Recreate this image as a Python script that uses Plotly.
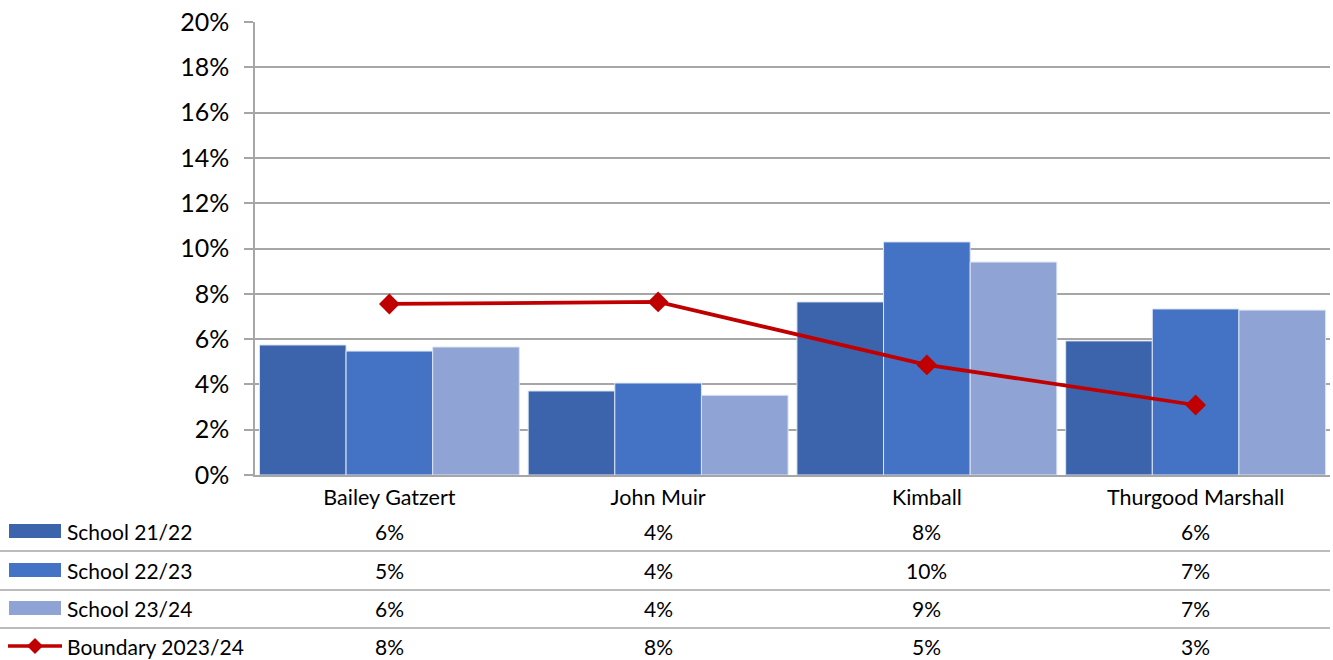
import plotly.graph_objects as go

categories = ["Bailey Gatzert", "John Muir", "Kimball", "Thurgood Marshall"]
school_2122 = [5.74, 3.71, 7.64, 5.92]
school_2223 = [5.47, 4.06, 10.29, 7.33]
school_2324 = [5.65, 3.52, 9.40, 7.28]
boundary_2324 = [7.55, 7.64, 4.86, 3.09]
series_names = ["School 21/22", "School 22/23", "School 23/24", "Boundary 2023/24"]
y_ticks = [0, 2, 4, 6, 8, 10, 12, 14, 16, 18, 20]

W, H = 1333, 660
FONT = "Lato, 'Open Sans', sans-serif"
colors = ["#3C64AC", "#4472C4", "#8FA4D4"]
line_color = "#C00000"

x0, x1 = 255, 1330
yb, yt = 475, 22

fig = go.Figure()
for name, vals, c in zip(series_names[:3], [school_2122, school_2223, school_2324], colors):
    fig.add_trace(go.Bar(x=categories, y=vals, name=name, marker=dict(color=c, line=dict(color="#DCE4F2", width=1))))
fig.add_trace(go.Scatter(x=categories, y=boundary_2324, name=series_names[3], mode="lines+markers",
                         line=dict(color=line_color, width=3.75),
                         marker=dict(symbol="diamond", size=16, color=line_color)))

fig.update_layout(
    width=W, height=H,
    margin=dict(l=0, r=0, t=0, b=0, pad=0, autoexpand=False),
    paper_bgcolor="white", plot_bgcolor="white",
    barmode="group", bargap=0.033, bargroupgap=0,
    showlegend=False,
    font=dict(family=FONT, color="black"),
    xaxis=dict(domain=[x0 / W, x1 / W], showline=True, linecolor="#A6A6A6", linewidth=1.5,
               ticks="", tickfont=dict(size=21.5, family=FONT), showgrid=False, automargin=False,
               ticklabelstandoff=2),
    yaxis=dict(domain=[(H - yb) / H, (H - yt) / H], range=[0, 20], tickvals=y_ticks,
               ticktext=[f"{v}%" for v in y_ticks], tickfont=dict(size=25, family=FONT),
               showline=True, linecolor="#A6A6A6", linewidth=1.5,
               ticks="outside", ticklen=9, tickcolor="#A6A6A6", tickwidth=1.5,
               ticklabelstandoff=10, automargin=False,
               showgrid=True, gridcolor="#A6A6A6", gridwidth=1.5, zeroline=False),
)

# data table below
row_y = [531, 570, 608, 646]
sep_y = [551, 590, 628]
for sy in sep_y:
    fig.add_shape(type="line", xref="paper", yref="paper", x0=0, x1=x1 / W,
                  y0=(H - sy) / H, y1=(H - sy) / H, line=dict(color="#A6A6A6", width=1.5))

all_series = [school_2122, school_2223, school_2324, boundary_2324]
for i, (name, vals) in enumerate(zip(series_names, all_series)):
    py = (H - row_y[i]) / H
    fig.add_annotation(x=65 / W, y=py, xref="paper", yref="paper", text=name, showarrow=False,
                       xanchor="left", yanchor="middle", font=dict(size=21, family=FONT, color="black"))
    for cat, v in zip(categories, vals):
        fig.add_annotation(x=cat, y=py, xref="x", yref="paper", text=f"{round(v):.0f}%", showarrow=False,
                           xanchor="center", yanchor="middle", font=dict(size=21, family=FONT, color="black"))
    if i < 3:
        fig.add_shape(type="rect", xref="paper", yref="paper", x0=9 / W, x1=61 / W,
                      y0=(H - row_y[i] - 7) / H, y1=(H - row_y[i] + 7) / H,
                      fillcolor=colors[i], line=dict(width=0))
    else:
        fig.add_shape(type="line", xref="paper", yref="paper", x0=8 / W, x1=62 / W,
                      y0=py, y1=py, line=dict(color=line_color, width=3.5))
        cx, cy, r = 35, row_y[i], 8
        path = f"M {cx / W} {(H - cy + r) / H} L {(cx + r) / W} {(H - cy) / H} L {cx / W} {(H - cy - r) / H} L {(cx - r) / W} {(H - cy) / H} Z"
        fig.add_shape(type="path", xref="paper", yref="paper", path=path,
                      fillcolor=line_color, line=dict(width=0))

fig.write_html("out.html", config={"displayModeBar": False, "responsive": False},
               post_script="document.body.style.margin='0';document.body.style.overflow='hidden';")
